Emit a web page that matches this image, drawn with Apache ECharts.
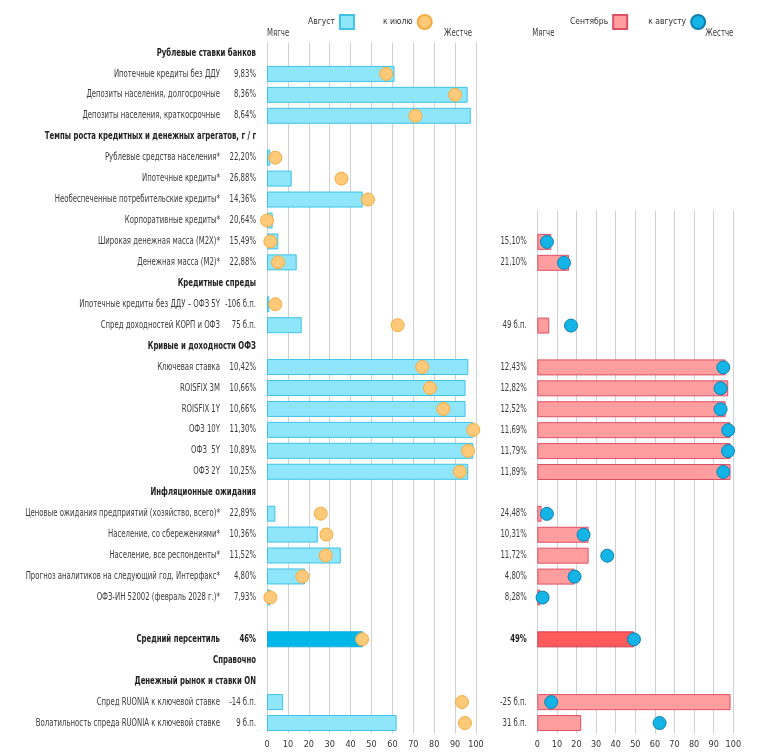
<!DOCTYPE html>
<html><head><meta charset="utf-8">
<script src="https://cdn.jsdelivr.net/npm/echarts@6/dist/echarts.min.js"></script>
<style>html,body{margin:0;padding:0;background:#fff}#c{width:758px;height:752px}</style>
</head><body><div id="c"></div>
<script>
const categories = [
 'Рублевые ставки банков',
 'Ипотечные кредиты без ДДУ',
 'Депозиты населения, долгосрочные',
 'Депозиты населения, краткосрочные',
 'Темпы роста кредитных и денежных агрегатов, г / г',
 'Рублевые средства населения*',
 'Ипотечные кредиты*',
 'Необеспеченные потребительские кредиты*',
 'Корпоративные кредиты*',
 'Широкая денежная масса (M2X)*',
 'Денежная масса (M2)*',
 'Кредитные спреды',
 'Ипотечные кредиты без ДДУ – ОФЗ 5Y',
 'Спред доходностей КОРП и ОФЗ',
 'Кривые и доходности ОФЗ',
 'Ключевая ставка',
 'ROISFIX 3M',
 'ROISFIX 1Y',
 'ОФЗ 10Y',
 'ОФЗ  5Y',
 'ОФЗ 2Y',
 'Инфляционные ожидания',
 'Ценовые ожидания предприятий (хозяйство, всего)*',
 'Население, со сбережениями*',
 'Население, все респонденты*',
 'Прогноз аналитиков на следующий год, Интерфакс*',
 'ОФЗ-ИН 52002 (февраль 2028 г.)*',
 '',
 'Средний персентиль',
 'Справочно',
 'Денежный рынок и ставки ON',
 'Спред RUONIA к ключевой ставке',
 'Волатильность спреда RUONIA к ключевой ставке'
];
const sectionHeaders = ['Рублевые ставки банков','Темпы роста кредитных и денежных агрегатов, г / г','Кредитные спреды','Кривые и доходности ОФЗ','Инфляционные ожидания','Справочно','Денежный рынок и ставки ON'];
const summaryRow = 'Средний персентиль';

const augLevels = ['', '9,83%', '8,36%', '8,64%', '', '22,20%', '26,88%', '14,36%', '20,64%', '15,49%', '22,88%', '', '-106 б.п.', '75 б.п.', '', '10,42%', '10,66%', '10,66%', '11,30%', '10,89%', '10,25%', '', '22,89%', '10,36%', '11,52%', '4,80%', '7,93%', '', '46%', '', '', '-14 б.п.', '9 б.п.'];
const sepLevels = ['', '', '', '', '', '', '', '', '', '15,10%', '21,10%', '', '', '49 б.п.', '', '12,43%', '12,82%', '12,52%', '11,69%', '11,79%', '11,89%', '', '24,48%', '10,31%', '11,72%', '4,80%', '8,28%', '', '49%', '', '', '-25 б.п.', '31 б.п.'];

// percentiles (0..100)
const augBar = [null, 61, 96, 97.5, null, 1.6, 11.8, 45.8, 2.7, 5.4, 14.2, null, 1.1, 16.6, null, 96.3, 95, 95, 98.7, 98.7, 96.3, null, 4, 24.3, 35.3, 18.2, 1.6, null, 46, null, null, 7.7, 62];
const julDot = [null, 57, 90, 71, null, 4, 35.6, 48.3, 0, 1.6, 5.3, null, 4, 62.5, null, 74.3, 78, 84.4, 98.7, 96.2, 92.3, null, 25.7, 28.4, 28.1, 16.9, 1.6, null, 45.5, null, null, 93.3, 94.7];
const sepBar = [null, null, null, null, null, null, null, null, null, 7.1, 16.2, null, null, 6.1, null, 96.1, 97.4, 96.1, 98.5, 98.6, 98.6, null, 2.2, 26.2, 26.2, 19, 1.5, null, 49.3, null, null, 98.6, 22.4];
const augDot = [null, null, null, null, null, null, null, null, null, 4.9, 13.6, null, null, 17.2, null, 94.9, 93.5, 93.5, 97.4, 97.3, 94.9, null, 4.9, 23.6, 35.7, 19, 2.7, null, 49.3, null, null, 7.1, 62.4];
const xTicks = [0, 10, 20, 30, 40, 50, 60, 70, 80, 90, 100];

const RSTART = 8; // right panel starts at this row
const FONT = '"DejaVu Sans Condensed", "DejaVu Sans", sans-serif';
const SX = 0.77; // horizontal condensing of label text

const chart = echarts.init(document.getElementById('c'), null, {renderer: 'canvas'});

const xAxisCommon = {
  type: 'value', min: 0, max: 100, interval: 10,
  axisLine: {show: false}, axisTick: {show: false},
  axisLabel: {fontFamily: FONT, fontSize: 9, color: '#333', margin: 7,
    formatter: v => xTicks.includes(v) ? String(v) : ''},
  splitLine: {show: true, lineStyle: {color: '#d0d0d0', width: 1}}
};
const yAxisCommon = {
  type: 'category', inverse: true,
  axisLine: {show: false}, axisTick: {show: false}, splitLine: {show: false},
  axisLabel: {show: false}
};

const augColor = '#8fe6fa', augBorder = '#3ec3e6';
const sepColor = '#ff9d9f', sepBorder = '#de5066';

chart.setOption({
  animation: false,
  backgroundColor: '#fff',
  grid: [
    {left: 267, right: 282, top: 42.5, bottom: 18.5, containLabel: false, outerBoundsMode: 'none'},
    {left: 537.3, right: 24.7, top: 210.5, bottom: 18.5, containLabel: false, outerBoundsMode: 'none'}
  ],
  legend: [
    {left: 303, top: 9, align: 'right', itemWidth: 14, itemHeight: 14, itemGap: 28,
     textStyle: {fontFamily: FONT, fontSize: 8.5, color: '#333'},
     data: [{name: 'Август', icon: 'rect'}, {name: 'к июлю', icon: 'circle'}]},
    {left: 565, top: 9, align: 'right', itemWidth: 14, itemHeight: 14, itemGap: 20,
     textStyle: {fontFamily: FONT, fontSize: 8.5, color: '#333'},
     data: [{name: 'Сентябрь', icon: 'rect'}, {name: 'к августу', icon: 'circle'}]}
  ],
  xAxis: [
    Object.assign({gridIndex: 0}, xAxisCommon),
    Object.assign({gridIndex: 1}, xAxisCommon)
  ],
  yAxis: [
    Object.assign({gridIndex: 0, data: categories}, yAxisCommon),
    Object.assign({gridIndex: 1, data: categories.slice(RSTART)}, yAxisCommon)
  ],
  series: [
    {name: 'Август', type: 'bar', xAxisIndex: 0, yAxisIndex: 0, barWidth: 16,
     itemStyle: {color: augColor, borderColor: augBorder, borderWidth: 1},
     data: augBar.map((v, i) => categories[i] === summaryRow
       ? {value: v, itemStyle: {color: '#00b8e8', borderColor: '#1aa8d8'}} : v)},
    {name: 'к июлю', type: 'scatter', xAxisIndex: 0, yAxisIndex: 0, symbolSize: 13, z: 5,
     itemStyle: {color: '#ffc97a', borderColor: '#f3ac40', borderWidth: 1, opacity: 1},
     data: julDot},
    {name: 'Сентябрь', type: 'bar', xAxisIndex: 1, yAxisIndex: 1, barWidth: 16,
     itemStyle: {color: sepColor, borderColor: sepBorder, borderWidth: 1},
     data: sepBar.slice(RSTART).map((v, i) => categories[i + RSTART] === summaryRow
       ? {value: v, itemStyle: {color: '#ff5a5c', borderColor: '#cf3e4c'}} : v)},
    {name: 'к августу', type: 'scatter', xAxisIndex: 1, yAxisIndex: 1, symbolSize: 13, z: 5,
     itemStyle: {color: '#14b4e6', borderColor: '#117fae', borderWidth: 1, opacity: 1},
     data: augDot.slice(RSTART)}
  ]
});

// Row labels, positioned through the axes' own scales
function label(x, y, text, bold, align) {
  return {type: 'text', x: x, y: y, scaleX: SX, silent: true,
    style: {text: text, x: 0, y: 0, align: align || 'right', verticalAlign: 'middle',
      font: (bold ? 'bold ' : '') + '10px ' + FONT, fill: bold ? '#222' : '#3a3a3a'}};
}
const g = [];
const lx0 = chart.convertToPixel({xAxisIndex: 0}, 0);
const rx0 = chart.convertToPixel({xAxisIndex: 1}, 0);
const lx100 = chart.convertToPixel({xAxisIndex: 0}, 100);
const rx100 = chart.convertToPixel({xAxisIndex: 1}, 100);
const valX = lx0 - 11, nameX = valX - 36, rValX = rx0 - 10.5;
categories.forEach((c, i) => {
  const y = chart.convertToPixel({yAxisIndex: 0}, i);
  const isHdr = sectionHeaders.includes(c);
  const isSum = c === summaryRow;
  if (isHdr) {
    g.push(label(valX, y, c, true));
  } else if (c) {
    g.push(label(nameX, y, c, isSum));
    if (augLevels[i]) g.push(label(valX, y, augLevels[i], isSum));
  }
  if (i >= RSTART && sepLevels[i]) {
    const yr = chart.convertToPixel({yAxisIndex: 1}, i - RSTART);
    g.push(label(rValX, yr, sepLevels[i], isSum));
  }
});
const topY = 33;
g.push(label(lx0, topY, 'Мягче', false, 'left'));
g.push(label(lx100 - 4, topY, 'Жестче', false, 'right'));
g.push(label(rx0 - 5, topY, 'Мягче', false, 'left'));
g.push(label(rx100, topY, 'Жестче', false, 'right'));
chart.setOption({graphic: g});
</script>
</body></html>
